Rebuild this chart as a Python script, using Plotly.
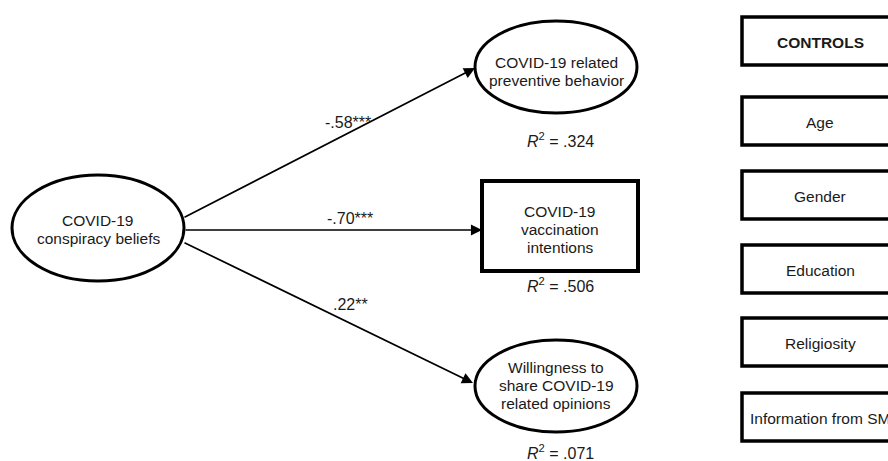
import plotly.graph_objects as go

# ---- data ----
predictor_label = "COVID-19<br>conspiracy beliefs"
outcome_labels = ["COVID-19 related<br>preventive behavior",
                  "COVID-19<br>vaccination<br>intentions",
                  "Willingness to<br>share COVID-19<br>related opinions"]
path_coefs = ["-.58***", "-.70***", ".22**"]
r_squared = [".324", ".506", ".071"]
control_labels = ["<b>CONTROLS</b>", "Age", "Gender", "Education", "Religiosity", "Information from SM"]

# ---- layout geometry (pixels) ----
W, H = 888, 461
pred_c = (98, 228); pred_r = (86, 53); pred_text_y = 229
out_centers = [(556, 67), (560, 226), (556, 386)]
out_text_y = [71, 229, 385]
out_shapes = ["ellipse", "rect", "ellipse"]
ell_r = (81, 46)
rect_half = (78, 45)
r2_pos = [(560, 140), (560, 285), (560, 452)]
tails = [(183, 218), (184, 230), (183, 242)]
heads = [(475, 68), (482, 230), (473, 383)]
coef_pos = [(348, 122), (350, 218), (350, 304)]
ctrl_x0, ctrl_x1 = 742, 898
ctrl_tops = [17, 97, 171, 245, 318, 393]
ctrl_h = 48
LINE_H = 18

FAM = "Liberation Sans, Arial, Helvetica, sans-serif"
font = dict(family=FAM, size=15.5, color="#1a1a1a")
font_big = dict(family=FAM, size=16, color="#1a1a1a")

fig = go.Figure()
fig.add_trace(go.Scatter(x=[0, W], y=[0, H], mode="markers", marker=dict(opacity=0),
                         hoverinfo="skip", showlegend=False))

shapes = []
annotations = []


def add_lines(label, cx, cy, f):
    lines = label.split("<br>")
    n = len(lines)
    for i, ln in enumerate(lines):
        annotations.append(dict(x=cx, y=cy + (i - (n - 1) / 2) * LINE_H, text=ln, showarrow=False,
                                font=f, xref="x", yref="y"))


# predictor
cx, cy = pred_c
shapes.append(dict(type="circle", xref="x", yref="y", x0=cx - pred_r[0], x1=cx + pred_r[0],
                   y0=cy - pred_r[1], y1=cy + pred_r[1], line=dict(color="black", width=3)))
add_lines(predictor_label, cx, pred_text_y, font)

# outcomes
for (ox, oy), ty, kind, lab, r2, (rx, ry) in zip(out_centers, out_text_y, out_shapes,
                                                 outcome_labels, r_squared, r2_pos):
    if kind == "ellipse":
        shapes.append(dict(type="circle", xref="x", yref="y", x0=ox - ell_r[0], x1=ox + ell_r[0],
                           y0=oy - ell_r[1], y1=oy + ell_r[1], line=dict(color="black", width=3)))
    else:
        shapes.append(dict(type="rect", xref="x", yref="y", x0=ox - rect_half[0], x1=ox + rect_half[0],
                           y0=oy - rect_half[1], y1=oy + rect_half[1], line=dict(color="black", width=4)))
    add_lines(lab, ox, ty, font)
    annotations.append(dict(x=rx, y=ry, text="<i>R</i><sup>2</sup> = " + r2, showarrow=False,
                            font=font_big, xref="x", yref="y"))

# paths
for (tx, ty), (hx, hy), coef, (lx, ly) in zip(tails, heads, path_coefs, coef_pos):
    annotations.append(dict(x=hx, y=hy, ax=tx, ay=ty, xref="x", yref="y", axref="x", ayref="y",
                            text="", showarrow=True, arrowhead=2, arrowsize=1.3, arrowwidth=1.7,
                            arrowcolor="black", standoff=0))
    annotations.append(dict(x=lx, y=ly, text=coef, showarrow=False, xref="x", yref="y", font=font_big))

# controls
for lab, top in zip(control_labels, ctrl_tops):
    shapes.append(dict(type="rect", xref="x", yref="y", x0=ctrl_x0, x1=ctrl_x1, y0=top, y1=top + ctrl_h,
                       line=dict(color="black", width=3.5)))
    annotations.append(dict(x=(ctrl_x0 + ctrl_x1) / 2, y=top + ctrl_h / 2 + 1, text=lab, showarrow=False,
                            xref="x", yref="y", font=font))

fig.update_layout(
    width=W, height=H, margin=dict(l=0, r=0, t=0, b=0),
    paper_bgcolor="white", plot_bgcolor="white",
    xaxis=dict(range=[0, W], visible=False, fixedrange=True),
    yaxis=dict(range=[H, 0], visible=False, fixedrange=True),
    shapes=shapes, annotations=annotations, showlegend=False,
)
fig.write_html("out.html", config={"displayModeBar": False},
               post_script="document.body.style.margin='0';document.body.style.overflow='hidden';")
